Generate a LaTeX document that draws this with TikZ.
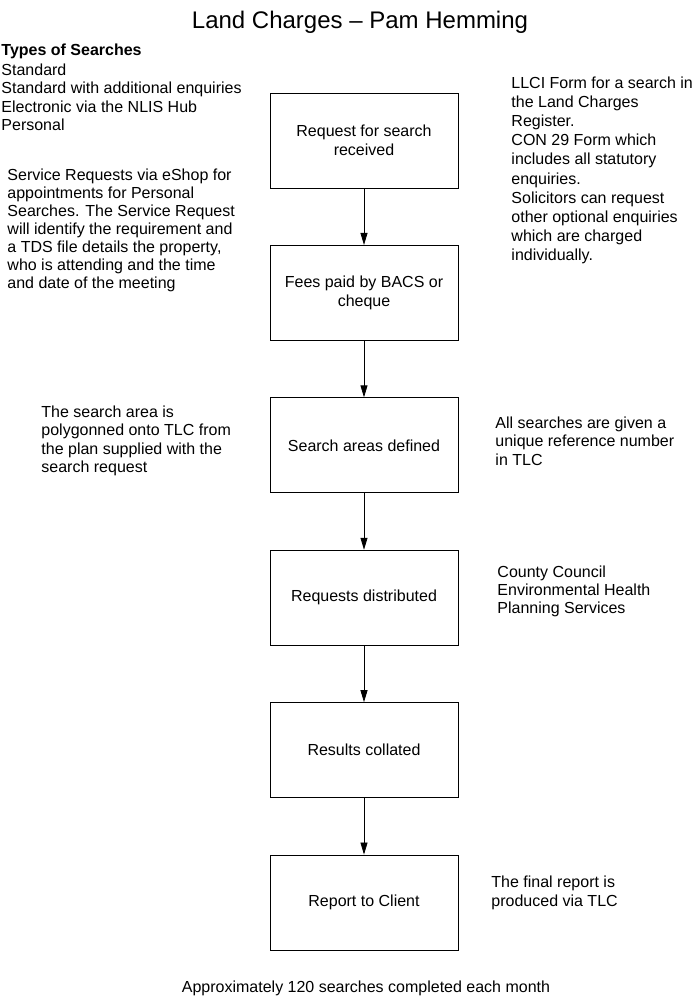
\documentclass[tikz,border=0pt]{standalone}
\usepackage{fontspec}
\setmainfont{Liberation Sans}
\usepackage{tikz}
\usetikzlibrary{positioning,arrows.meta}

\begin{document}
\begin{tikzpicture}[x=1pt,y=-1pt,>={Triangle[length=12pt,width=7pt]},line width=0.9pt,
    stepbox/.style={draw, minimum width=188pt, minimum height=95pt, align=center,
      font=\fontsize{16}{19}\selectfont},
    note/.style={anchor=north west, inner sep=0pt, align=left,
      font=\fontsize{16}{18.4}\selectfont}]
  \useasboundingbox (0,0) rectangle (699,997);
  \node[anchor=base, inner sep=0pt, font=\fontsize{24}{28}\selectfont] (title) at (360,28) {Land Charges -- Pam Hemming};

  % main flow
  \node[stepbox] (req) at (364,140.5) {Request for search\\received};
  \node[stepbox, below=56.5pt of req] (fees) {Fees paid by BACS or\\cheque};
  \node[stepbox, below=56.5pt of fees] (area) {Search areas defined};
  \node[stepbox, below=56.5pt of area] (dist) {Requests distributed};
  \node[stepbox, below=56.5pt of dist] (coll) {Results collated};
  \node[stepbox, below=56.5pt of coll] (report) {Report to Client};
  \draw[->,line width=0.8pt] (req) -- (fees);
  \draw[->,line width=0.8pt] (fees) -- (area);
  \draw[->,line width=0.8pt] (area) -- (dist);
  \draw[->,line width=0.8pt] (dist) -- (coll);
  \draw[->,line width=0.8pt] (coll) -- (report);

  % notes (placed by the top of their first line)
  \node[note] (types) at (1,43.3) {\bfseries Types of Searches\\[1.5pt]
    Standard\\Standard with additional enquiries\\Electronic via the NLIS Hub\\Personal};
  \node[note, font=\fontsize{16}{18}\selectfont] (eshop) at (7,168.3) {Service Requests via eShop for\\
    appointments for Personal\\Searches. The Service Request\\will identify the requirement and\\
    a TDS file details the property,\\who is attending and the time\\and date of the meeting};
  \node[note, font=\fontsize{16}{19.1}\selectfont] (forms) at (511,76.5) {LLCI Form for a search in\\
    the Land Charges\\Register.\\CON 29 Form which\\includes all statutory\\enquiries.\\
    Solicitors can request\\other optional enquiries\\which are charged\\individually.};
  \node[note] (polygon) at (41,405.3) {The search area is\\polygonned onto TLC from\\
    the plan supplied with the\\search request};
  \node[note] (refno) at (495,416.3) {All searches are given a\\unique reference number\\in TLC};
  \node[note, font=\fontsize{16}{18}\selectfont] (councils) at (497,565.3) {County Council\\
    Environmental Health\\Planning Services};
  \node[note, font=\fontsize{16}{19}\selectfont] (final) at (491,875.3) {The final report is\\produced via TLC};
  \node[anchor=base, inner sep=0pt, font=\fontsize{16}{19}\selectfont] (total) at (366,992)
    {Approximately 120 searches completed each month};
\end{tikzpicture}
\end{document}
